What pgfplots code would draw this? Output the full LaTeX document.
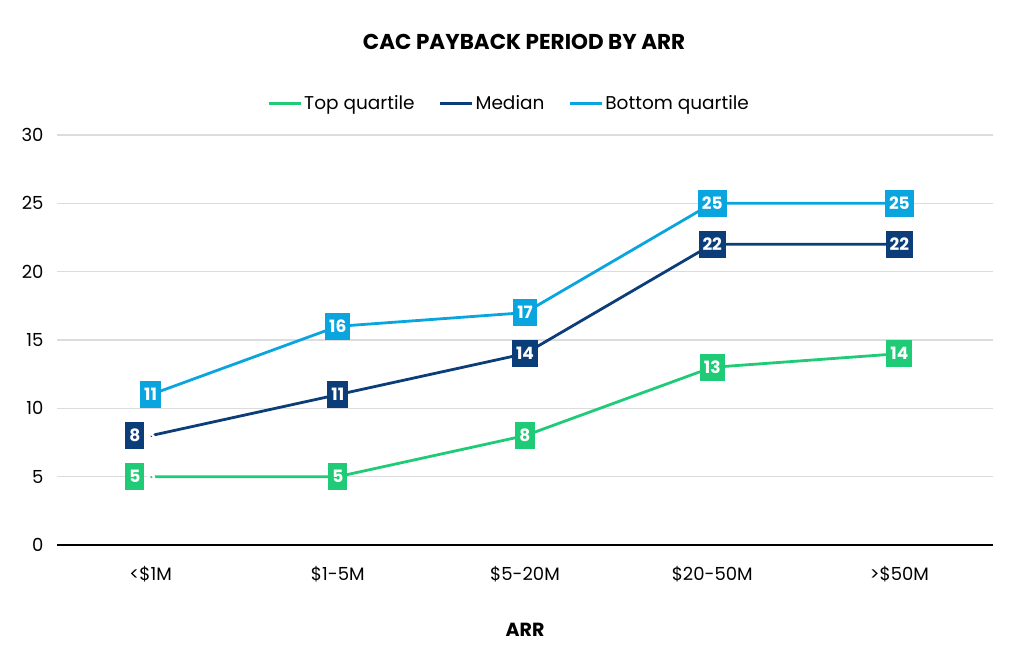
\documentclass[border=0pt]{standalone}
\usepackage{pgfplots}
\pgfplotsset{compat=1.18}
\usepackage{fontspec}
\setmainfont{Poppins}
\definecolor{topq}{HTML}{1FCB76}
\definecolor{med}{HTML}{0B3D79}
\definecolor{botq}{HTML}{0AA5DF}
\definecolor{gridc}{HTML}{DCDCDC}
\pgfplotstableread{
x top med bot
0 5 8 11
1 5 11 16
2 8 14 17
3 13 22 25
4 14 22 25
}\datatab
\begin{document}
\begin{tikzpicture}[x=1pt,y=1pt]
\useasboundingbox (0,0) rectangle (1024,653);
\begin{axis}[
  at={(57pt,108pt)}, anchor=south west,
  scale only axis, width=936pt, height=410pt,
  xmin=-0.5, xmax=4.5, ymin=0, ymax=30,
  ytick={0,5,...,30}, xtick={0,...,4},
  xticklabels={<\$1M,\$1-5M,\$5-20M,\$20-50M,>\$50M},
  axis x line*=bottom, axis y line*=left,
  y axis line style={draw=none},
  x axis line style={black, line width=1.3pt, -},
  major tick length=0pt,
  ymajorgrids, grid style={gridc, line width=1.3pt},
  /pgf/number format/assume math mode=true,
  tick label style={font=\fontsize{18}{20}\selectfont},
  xticklabel style={yshift=-18pt},
  yticklabel style={xshift=-10pt},
  title={\fontsize{21.5}{24}\selectfont\bfseries CAC PAYBACK PERIOD BY ARR},
  title style={at={(0.499,1.212)}, anchor=center},
  xlabel={\fontsize{19}{22}\selectfont\bfseries ARR},
  xlabel style={at={(0.5,-0.207)}, anchor=center},
  legend columns=3,
  legend style={at={(0.483,1.078)}, anchor=center, draw=none, fill=none,
    font=\fontsize{18.5}{20}\selectfont,
    /tikz/every even column/.append style={column sep=22pt}},
  legend image code/.code={\draw[#1, line width=3pt] (0pt,0pt) -- (32pt,0pt);},
  nodes near coords={\pgfmathprintnumber{\pgfplotspointmeta}},
  nodes near coords style={font=\fontsize{17}{18}\selectfont\bfseries, text=white,
     anchor=center, minimum height=27pt, inner xsep=4pt, inner ysep=0pt},
]
% lines
\addplot[topq, line width=2.8pt] table[x=x,y=top] {\datatab};
\addplot[med, line width=2.8pt] table[x=x,y=med] {\datatab};
\addplot[botq, line width=2.8pt] table[x=x,y=bot] {\datatab};
\legend{Top quartile, Median, Bottom quartile}
% labels
\addplot[forget plot, draw=none, nodes near coords, nodes near coords style={fill=topq},
  x filter/.expression={x==0 ? nan : x}] table[x=x,y=top] {\datatab};
\addplot[forget plot, draw=none, nodes near coords, nodes near coords style={fill=topq, anchor=east, xshift=-6pt},
  x filter/.expression={x==0 ? x : nan}] table[x=x,y=top] {\datatab};
\addplot[forget plot, draw=none, nodes near coords, nodes near coords style={fill=med},
  x filter/.expression={x==0 ? nan : x}] table[x=x,y=med] {\datatab};
\addplot[forget plot, draw=none, nodes near coords, nodes near coords style={fill=med, anchor=east, xshift=-6pt},
  x filter/.expression={x==0 ? x : nan}] table[x=x,y=med] {\datatab};
\addplot[forget plot, draw=none, nodes near coords, nodes near coords style={fill=botq}] table[x=x,y=bot] {\datatab};
\end{axis}
\end{tikzpicture}
\end{document}
